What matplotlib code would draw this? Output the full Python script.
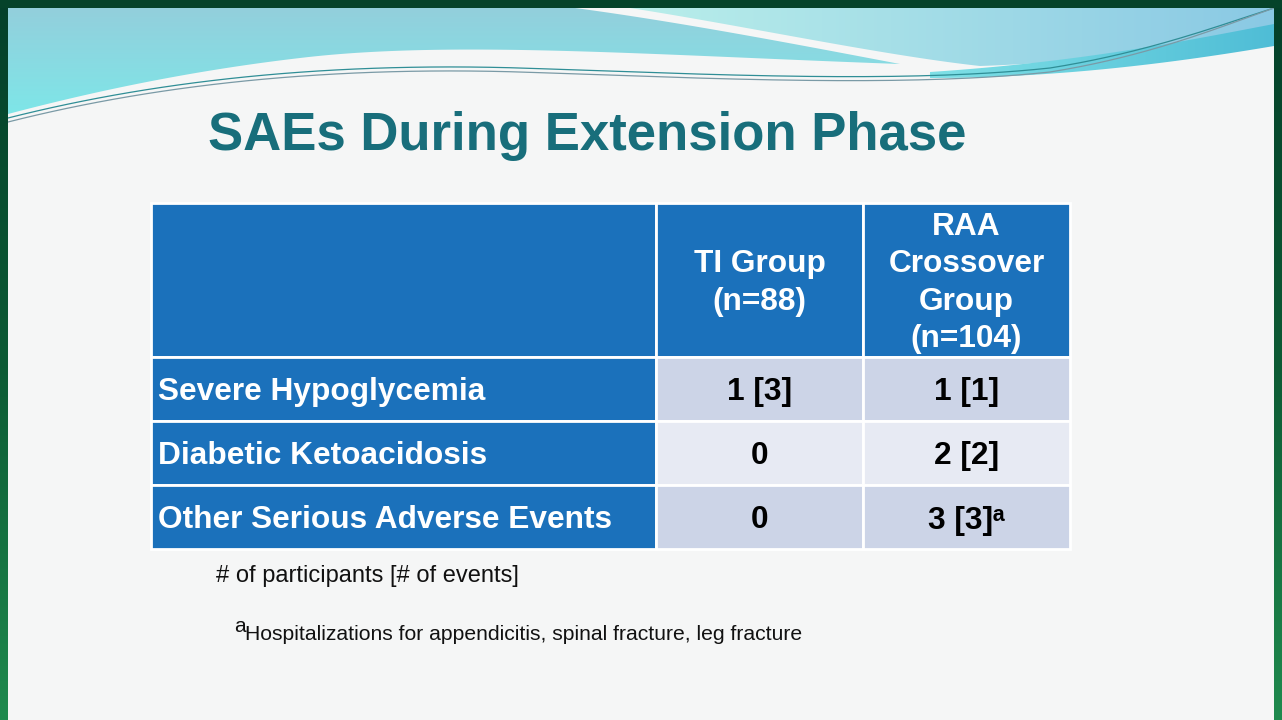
import numpy as np
import matplotlib
matplotlib.use("Agg")
import matplotlib.pyplot as plt
from matplotlib.table import Table
from matplotlib.transforms import Affine2D
from matplotlib.colors import LinearSegmentedColormap

plt.rcParams['font.family'] = ['Liberation Sans', 'DejaVu Sans']

# ---------------- data ----------------
title = "SAEs During Extension Phase"
col_headers = ["", "TI Group\n(n=88)", "RAA\nCrossover\nGroup\n(n=104)"]
row_labels = ["Severe Hypoglycemia", "Diabetic Ketoacidosis", "Other Serious Adverse Events"]
ti_participants = [1, 0, 0]
ti_events = [3, 0, 0]
raa_participants = [1, 2, 3]
raa_events = [1, 2, 3]
raa_footnote = [False, False, True]
note_1 = "# of participants [# of events]"
note_2 = "Hospitalizations for appendicitis, spinal fracture, leg fracture"

# ---------------- colours ----------------
HEADER_BLUE = "#1b71bb"
ROW_DARK = "#ccd4e7"
ROW_LIGHT = "#e7eaf3"
TITLE_COL = "#186e7b"
BG = "#f5f6f6"


def fmt(p, e, mark=False):
    if p == 0:
        return "0"
    s = f"{p} [{e}]"
    if mark:
        s += "\u1d43"
    return s


W, H = 1282, 720
fig = plt.figure(figsize=(W / 100, H / 100), dpi=100, facecolor=BG)
ax = fig.add_axes([0, 0, 1, 1])
ax.set_xlim(0, W)
ax.set_ylim(H, 0)
ax.axis('off')
ax.set_facecolor(BG)


# ---------------- slide decoration ----------------
def bez(p0, p1, p2, p3, n=60):
    t = np.linspace(0, 1, n)[:, None]
    return ((1 - t) ** 3) * np.array(p0) + 3 * ((1 - t) ** 2) * t * np.array(p1) \
        + 3 * (1 - t) * t ** 2 * np.array(p2) + t ** 3 * np.array(p3)


def clip_gradient(poly, c1, c2, horizontal=False, z=1):
    cmap = LinearSegmentedColormap.from_list("g", [c1, c2])
    g = np.linspace(0, 1, 256)
    img = g[None, :] if horizontal else g[:, None]
    xs, ys = poly[:, 0], poly[:, 1]
    im = ax.imshow(img, cmap=cmap, extent=[xs.min(), xs.max(), ys.max(), ys.min()],
                   aspect='auto', zorder=z, interpolation='bilinear')
    patch = plt.Polygon(poly, closed=True, transform=ax.transData, facecolor='none', edgecolor='none')
    ax.add_patch(patch)
    im.set_clip_path(patch)


# left cyan region
lower_left = np.vstack([bez((900, 64), (650, 55), (450, 40), (300, 58)),
                        bez((300, 58), (180, 72), (80, 95), (8, 114))])
right_edge = bez((575, 8), (680, 22), (800, 45), (900, 64))
poly_left = np.vstack([[[8, 8]], right_edge, lower_left, [[8, 8]]])
clip_gradient(poly_left, "#93cfdc", "#7ee6e8", horizontal=False, z=1)

# right pale region
edge_r = bez((630, 8), (740, 25), (880, 55), (980, 66))
bottom_r = bez((980, 66), (1100, 62), (1200, 45), (1274, 28))
poly_right = np.vstack([edge_r, bottom_r, [[1274, 8]], [[630, 8]]])
clip_gradient(poly_right, "#b9eeea", "#8ac9e4", horizontal=True, z=1)

# teal band at lower right
band_top = bez((930, 72), (1080, 62), (1180, 42), (1274, 24))
band_bot = bez((1274, 46), (1180, 62), (1060, 78), (930, 78))
poly_band = np.vstack([band_top, band_bot])
clip_gradient(poly_band, "#7fe0e6", "#4fbdd6", horizontal=True, z=2)

# thin swoosh lines
for off, col in [(0, "#2f8e96"), (4, "#7a9aa6")]:
    ln = np.vstack([bez((8, 118 + off), (150, 82 + off), (320, 62 + off), (520, 68 + off)),
                    bez((520, 68 + off), (700, 74 + off), (900, 84 + off), (1050, 68 + off)),
                    bez((1050, 68 + off), (1150, 52 + off), (1220, 25 + off * 0.5), (1274, 8))])
    ax.plot(ln[:, 0], ln[:, 1], color=col, lw=0.9, zorder=3)

# frame borders
green = LinearSegmentedColormap.from_list("gr", ["#04402a", "#0c5a34", "#1f8a4e"])
ax.imshow(np.linspace(0, 1, 256)[:, None], cmap=green, extent=[0, 8, H, 0], aspect='auto', zorder=5)
ax.imshow(np.linspace(0, 1, 256)[:, None], cmap=green, extent=[1274, W, H, 0], aspect='auto', zorder=5)
ax.fill_between([0, W], 0, 8, color="#05432a", zorder=6, lw=0)

# ---------------- title ----------------
ax.text(587, 150, title, ha='center', va='baseline', fontsize=38, fontweight='bold',
        color=TITLE_COL, zorder=10)

# ---------------- table ----------------
x0, x1, y0, y1 = 151, 1070, 203, 549
tbl = Table(ax, bbox=[x0 / W, 1 - y1 / H, (x1 - x0) / W, (y1 - y0) / H])
col_w = [506, 207, 207]
head_h = 154
row_h = (y1 - y0 - head_h) / len(row_labels)
FS = 22.8

for c, txt in enumerate(col_headers):
    cell = tbl.add_cell(0, c, col_w[c], head_h, text=txt, loc='center',
                        facecolor=HEADER_BLUE, edgecolor='white')
    cell.get_text().set_color('white')
    cell.get_text().set_transform(Affine2D().translate(0, -3))

for r, lab in enumerate(row_labels):
    fc = ROW_DARK if r % 2 == 0 else ROW_LIGHT
    cell = tbl.add_cell(r + 1, 0, col_w[0], row_h, text=lab, loc='left',
                        facecolor=HEADER_BLUE, edgecolor='white')
    cell.PAD = 7 / col_w[0]
    cell.get_text().set_color('white')
    cell = tbl.add_cell(r + 1, 1, col_w[1], row_h, text=fmt(ti_participants[r], ti_events[r]),
                        loc='center', facecolor=fc, edgecolor='white')
    cell.get_text().set_color('black')
    cell = tbl.add_cell(r + 1, 2, col_w[2], row_h,
                        text=fmt(raa_participants[r], raa_events[r], raa_footnote[r]),
                        loc='center', facecolor=fc, edgecolor='white')
    cell.get_text().set_color('black')

tbl.auto_set_font_size(False)
tbl.set_fontsize(FS)
for (r, c), cell in tbl.get_celld().items():
    cell.set_linewidth(2)
    cell.get_text().set_fontweight('bold')
    cell.get_text().set_linespacing(1.32)
    if r > 0:
        cell.get_text().set_verticalalignment('center_baseline')
tbl.set_zorder(10)
ax.add_table(tbl)

# ---------------- footnotes ----------------
ax.text(216, 582, note_1, ha='left', va='baseline', fontsize=17, color='#111111', zorder=10)
ax.text(234, 632, "a", ha='left', va='baseline', fontsize=15, color='#111111', zorder=10)
ax.text(245, 640, note_2, ha='left', va='baseline', fontsize=15.2, color='#111111', zorder=10)

fig.savefig("out.png", dpi=100, facecolor=BG)
